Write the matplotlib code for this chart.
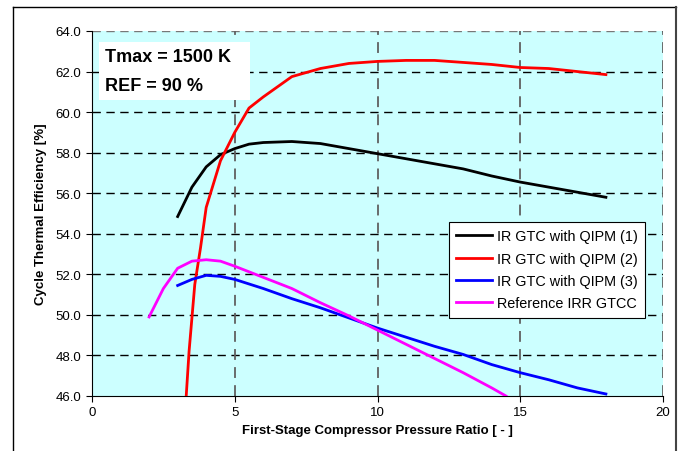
import matplotlib
matplotlib.use("Agg")
import matplotlib.pyplot as plt
from matplotlib.patches import Rectangle
from matplotlib.lines import Line2D

plt.rcParams['font.family'] = ['Liberation Sans', 'DejaVu Sans']

# IR GTC with QIPM (1)
x1 = [3, 3.5, 4, 4.5, 5, 5.5, 6, 7, 8, 9, 10, 11, 12, 13, 14, 15, 16, 17, 18]
y1 = [54.85, 56.3, 57.3, 57.9, 58.2, 58.42, 58.5, 58.55, 58.45, 58.2, 57.95,
      57.7, 57.45, 57.2, 56.85, 56.55, 56.3, 56.05, 55.8]

# IR GTC with QIPM (2)
x2 = [3.3, 3.4, 3.6, 3.8, 4, 4.5, 5, 5.5, 6, 7, 8, 9, 10, 11, 12, 13, 14,
      15, 16, 17, 18]
y2 = [46.0, 48.2, 51.5, 53.3, 55.3, 57.6, 59.0, 60.2, 60.75, 61.75, 62.15,
      62.4, 62.5, 62.55, 62.55, 62.45, 62.35, 62.2, 62.15, 62.0, 61.85]

# IR GTC with QIPM (3)
x3 = [3, 3.5, 4, 4.5, 5, 6, 7, 8, 9, 10, 11, 12, 13, 14, 15, 16, 17, 18]
y3 = [51.45, 51.75, 51.95, 51.9, 51.75, 51.3, 50.8, 50.35, 49.85, 49.35,
      48.9, 48.45, 48.05, 47.55, 47.15, 46.8, 46.4, 46.1]

# Reference IRR GTCC
x4 = [2, 2.5, 3, 3.5, 4, 4.5, 5, 6, 7, 8, 9, 10, 11, 12, 13, 14, 14.5]
y4 = [49.9, 51.3, 52.3, 52.65, 52.72, 52.65, 52.4, 51.85, 51.3, 50.6, 49.95,
      49.25, 48.55, 47.85, 47.15, 46.4, 46.0]

labels = ["IR GTC with QIPM (1)", "IR GTC with QIPM (2)",
          "IR GTC with QIPM (3)", "Reference IRR GTCC"]
colors = ["black", "#ff0000", "#0000ff", "#ff00ff"]

x_ticks = [0, 5, 10, 15, 20]
y_ticks = [46, 48, 50, 52, 54, 56, 58, 60, 62, 64]

fig = plt.figure(figsize=(6.91, 4.52), dpi=100)

# outer chart frame
fig.add_artist(Line2D([13 / 691, 13 / 691], [0, 1 - 8 / 452], color="black", lw=1))
fig.add_artist(Line2D([13 / 691, 676 / 691], [1 - 8 / 452, 1 - 8 / 452], color="black", lw=1))
fig.add_artist(Line2D([676 / 691, 676 / 691], [0, 1 - 8 / 452], color="#444444", lw=1.5))

ax = fig.add_axes([92 / 691, 1 - 397 / 452, 571 / 691, 365 / 452])
ax.set_facecolor("#ccffff")

for xs, ys, c, lab in zip([x1, x2, x3, x4], [y1, y2, y3, y4], colors, labels):
    ax.plot(xs, ys, color=c, lw=2, label=lab, zorder=3)

ax.set_xlim(0, 20)
ax.set_ylim(46, 64)
ax.set_xticks(x_ticks)
ax.set_yticks(y_ticks)
ax.set_yticklabels(["%.1f" % v for v in y_ticks])
ax.tick_params(axis='both', labelsize=9.5, length=4, direction='out')

# grid: horizontal black dashes, vertical gray dashes
for v in y_ticks[1:]:
    ax.axhline(v, color="black" if v < 64 else "#777777", lw=1,
               dashes=(6, 4), zorder=1)
for v in x_ticks[1:]:
    ax.axvline(v, color="#606060", lw=1.3, dashes=(6, 4), zorder=1)

ax.spines['top'].set_visible(False)
ax.spines['right'].set_visible(False)
ax.spines['left'].set_color("black")
ax.spines['bottom'].set_color("black")

ax.set_xlabel("First-Stage Compressor Pressure Ratio [ - ]", fontsize=9.5,
              fontweight='bold', labelpad=4)
ax.set_ylabel("Cycle Thermal Efficiency [%]", fontsize=9.5,
              fontweight='bold', labelpad=6)

# annotation box
ax.add_patch(Rectangle((0.25, 60.6), 5.3, 2.85, facecolor="white",
                       edgecolor="none", zorder=4))
ax.text(0.45, 62.75, "Tmax = 1500 K", fontsize=13, fontweight='bold',
        va='center', zorder=5)
ax.text(0.45, 61.3, "REF = 90 %", fontsize=13, fontweight='bold',
        va='center', zorder=5)

leg = ax.legend(loc='upper left', bbox_to_anchor=(357 / 571, (397 - 223) / 365),
                fontsize=10.4, frameon=True, fancybox=False, framealpha=1,
                edgecolor="black", handlelength=2.5, borderpad=0.5,
                labelspacing=0.58, handletextpad=0.3, borderaxespad=0)
leg.get_frame().set_linewidth(0.8)
leg.set_zorder(6)

fig.savefig("out.png", dpi=100)
